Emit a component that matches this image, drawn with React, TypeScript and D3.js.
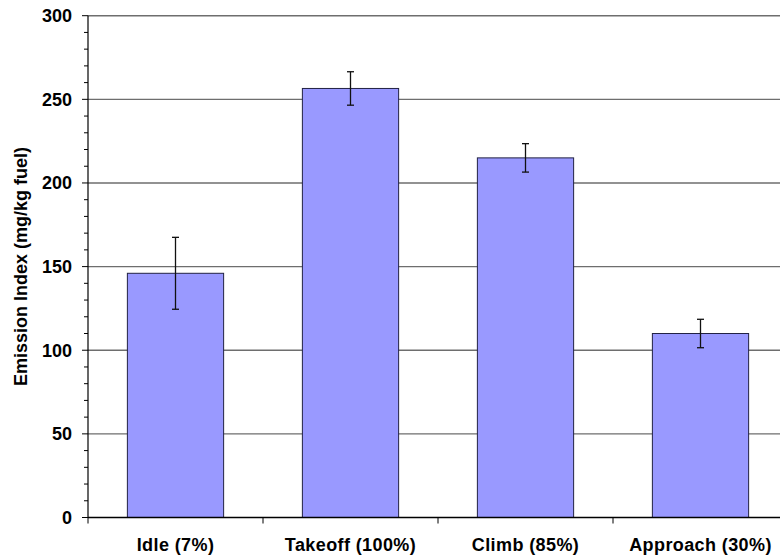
import React, { useEffect, useRef } from "react";
import * as d3 from "d3";

const categories = ["Idle (7%)", "Takeoff (100%)", "Climb (85%)", "Approach (30%)"];
const values = [146, 256.5, 215, 110];
const errors = [21.5, 10, 8.5, 8.5];
const yTicks = [0, 50, 100, 150, 200, 250, 300];
const yLabel = "Emission Index (mg/kg fuel)";

const W = 780;
const H = 559;
const left = 88;
const right = 788;
const top = 15.7;
const bottom = 517.5;
const FONT = "'Liberation Sans', Arial, sans-serif";

export default function App() {
  const ref = useRef<SVGSVGElement>(null);

  useEffect(() => {
    document.body.style.margin = "0";
    const svg = d3.select(ref.current);
    svg.selectAll("*").remove();

    const x = d3.scaleBand<string>().domain(categories).range([left, right]).paddingInner(0.45).paddingOuter(0.225);
    const xb = d3.scaleBand<string>().domain(categories).range([left, right]);
    const y = d3.scaleLinear().domain([0, 300]).range([bottom, top]);

    // gridlines
    svg
      .append("g")
      .selectAll("line")
      .data(yTicks.filter((t) => t > 0))
      .join("line")
      .attr("x1", left)
      .attr("x2", right)
      .attr("y1", (d) => y(d))
      .attr("y2", (d) => y(d))
      .attr("stroke", "#6e6e6e")
      .attr("stroke-width", 1.4);

    // bars
    svg
      .append("g")
      .selectAll("rect")
      .data(categories)
      .join("rect")
      .attr("x", (d) => x(d)!)
      .attr("width", x.bandwidth())
      .attr("y", (_, i) => y(values[i]))
      .attr("height", (_, i) => bottom - y(values[i]))
      .attr("fill", "#9999FF")
      .attr("stroke", "#222244")
      .attr("stroke-width", 1);

    // error bars
    const eg = svg.append("g").attr("stroke", "#111").attr("stroke-width", 1.3);
    categories.forEach((c, i) => {
      const cx = x(c)! + x.bandwidth() / 2;
      const y1 = y(values[i] + errors[i]);
      const y2 = y(values[i] - errors[i]);
      eg.append("line").attr("x1", cx).attr("x2", cx).attr("y1", y1).attr("y2", y2);
      eg.append("line").attr("x1", cx - 3.5).attr("x2", cx + 3.5).attr("y1", y1).attr("y2", y1);
      eg.append("line").attr("x1", cx - 3.5).attr("x2", cx + 3.5).attr("y1", y2).attr("y2", y2);
    });

    // y axis
    const yAxis = svg.append("g");
    yAxis
      .append("line")
      .attr("x1", left)
      .attr("x2", left)
      .attr("y1", top)
      .attr("y2", bottom)
      .attr("stroke", "#000")
      .attr("stroke-width", 1.2);
    const minor = d3.range(0, 301, 10);
    yAxis
      .selectAll("line.tick")
      .data(minor)
      .join("line")
      .attr("class", "tick")
      .attr("x1", (d) => (d % 50 === 0 ? left - 6 : left - 4))
      .attr("x2", left)
      .attr("y1", (d) => y(d))
      .attr("y2", (d) => y(d))
      .attr("stroke", "#000")
      .attr("stroke-width", 1);
    yAxis
      .selectAll("text")
      .data(yTicks)
      .join("text")
      .attr("x", 72)
      .attr("y", (d) => y(d))
      .attr("dy", "0.35em")
      .attr("text-anchor", "end")
      .attr("font-family", FONT)
      .attr("font-weight", "bold")
      .attr("font-size", 18)
      .text((d) => String(d));

    // x axis
    const xAxis = svg.append("g");
    xAxis
      .append("line")
      .attr("x1", left)
      .attr("x2", right)
      .attr("y1", bottom)
      .attr("y2", bottom)
      .attr("stroke", "#000")
      .attr("stroke-width", 1.3);
    xAxis
      .selectAll("line.tick")
      .data(categories)
      .join("line")
      .attr("class", "tick")
      .attr("x1", (d) => xb(d)!)
      .attr("x2", (d) => xb(d)!)
      .attr("y1", bottom)
      .attr("y2", bottom + 6)
      .attr("stroke", "#000");
    xAxis
      .selectAll("text")
      .data(categories)
      .join("text")
      .attr("x", (d) => xb(d)! + xb.bandwidth() / 2)
      .attr("y", 551)
      .attr("text-anchor", "middle")
      .attr("font-family", FONT)
      .attr("font-weight", "bold")
      .attr("font-size", 18)
      .attr("letter-spacing", 0.4)
      .text((d) => d);

    // y label
    svg
      .append("text")
      .attr("transform", `translate(27,${(top + bottom) / 2}) rotate(-90)`)
      .attr("text-anchor", "middle")
      .attr("font-family", FONT)
      .attr("font-weight", "bold")
      .attr("font-size", 18)
      .text(yLabel);
  }, []);

  return (
    <svg
      ref={ref}
      width={W}
      height={H}
      style={{ position: "absolute", left: 0, top: 0, background: "#fff", overflow: "hidden" }}
    />
  );
}
